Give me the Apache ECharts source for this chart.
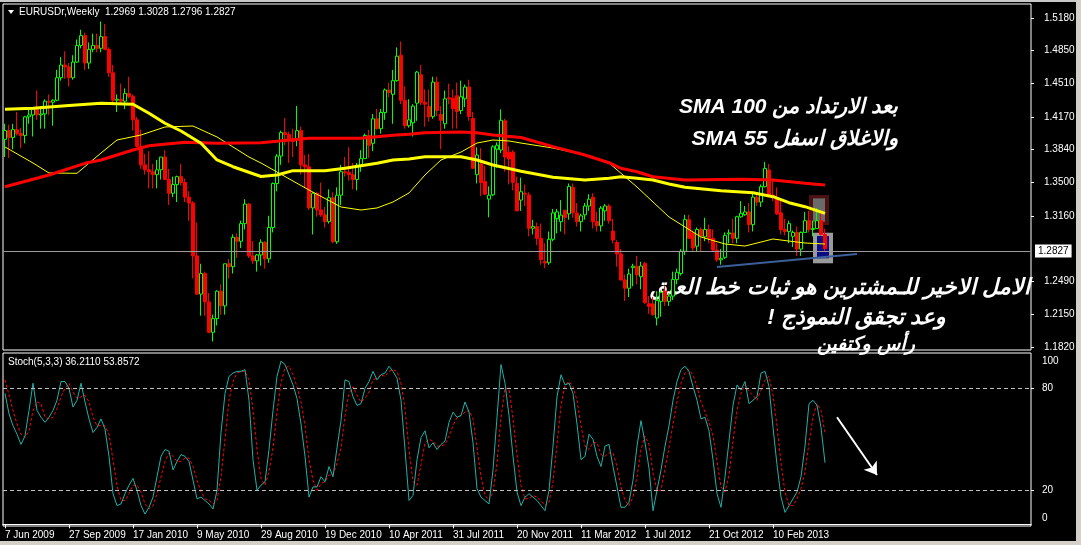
<!DOCTYPE html>
<html><head><meta charset="utf-8">
<script src="https://cdn.jsdelivr.net/npm/echarts/dist/echarts.min.js"></script>
<style>html,body{margin:0;padding:0;background:#000;overflow:hidden}#c{width:1081px;height:545px}</style>
</head><body><div id="c"></div>
<script>
// ---------------- DATA ----------------
const tickLabels = ['7 Jun 2009','27 Sep 2009','17 Jan 2010','9 May 2010','29 Aug 2010','19 Dec 2010','10 Apr 2011','31 Jul 2011','20 Nov 2011','11 Mar 2012','1 Jul 2012','21 Oct 2012','10 Feb 2013'];
const weeksPerTick = 16;
const slotCount = 257;

const opens = [1.3940,1.4030,1.3960,1.4040,1.4000,1.3980,1.4170,1.4190,1.4250,1.4190,
1.4200,1.4330,1.4320,1.4340,1.4570,1.4700,1.4680,1.4570,1.4730,1.4900,
1.5000,1.4720,1.4860,1.4900,1.4870,1.4990,1.4860,1.4620,1.4340,1.4350,
1.4330,1.4410,1.4380,1.4140,1.3870,1.3680,1.3630,1.3610,1.3580,1.3630,
1.3760,1.3530,1.3390,1.3480,1.3560,1.3500,1.3350,1.3290,1.2750,1.2360,
1.2570,1.2280,1.1970,1.2110,1.2390,1.2240,1.2670,1.2640,1.2940,1.2900,
1.3080,1.3280,1.2750,1.2700,1.2760,1.2890,1.2720,1.3040,1.3490,1.3770,
1.4010,1.3990,1.3940,1.3950,1.4030,1.3680,1.3660,1.3240,1.3390,1.3220,
1.3170,1.3100,1.3345,1.2895,1.3370,1.3610,1.3600,1.3580,1.3530,1.3676,
1.3744,1.3980,1.3900,1.4150,1.4050,1.4215,1.4445,1.4400,1.4540,1.4800,
1.4340,1.4080,1.4110,1.4310,1.4600,1.4320,1.4280,1.4175,1.4525,1.4195,
1.4100,1.4365,1.4360,1.4385,1.4235,1.4355,1.4475,1.4155,1.3580,1.3690,
1.3510,1.3330,1.3375,1.3840,1.3832,1.4130,1.3810,1.3810,1.3490,1.3320,
1.3390,1.3372,1.3032,1.3049,1.2930,1.2694,1.2680,1.2920,1.3130,1.3100,
1.3217,1.3180,1.3450,1.3187,1.3100,1.3170,1.3260,1.3350,1.3100,1.3058,
1.3210,1.3260,1.3004,1.2888,1.2770,1.2505,1.2420,1.2630,1.2645,1.2538,
1.2674,1.2262,1.2260,1.2116,1.2286,1.2390,1.2286,1.2340,1.2510,1.2570,
1.2798,1.3120,1.2985,1.2850,1.3020,1.2945,1.3020,1.2930,1.2810,1.2710,
1.2735,1.2975,1.2985,1.2930,1.3150,1.3170,1.3200,1.3070,1.3350,1.3300,
1.3457,1.3627,1.3370,1.3330,1.3190,1.3020,1.3000,1.2950,1.2990,1.2820,
1.2990,1.3110,1.3020,1.3030,1.3110,1.2969];
const highs = [1.4100,1.4090,1.4100,1.4220,1.4060,1.4180,1.4260,1.4260,1.4440,1.4280,
1.4350,1.4400,1.4350,1.4650,1.4780,1.4840,1.4720,1.4800,1.4960,1.5060,
1.5030,1.4930,1.5020,1.5020,1.5144,1.5120,1.4880,1.4700,1.4400,1.4510,
1.4460,1.4580,1.4400,1.4170,1.4040,1.3790,1.3820,1.3690,1.3730,1.3760,
1.3830,1.3640,1.3560,1.3570,1.3690,1.3540,1.3410,1.3310,1.3090,1.2670,
1.2590,1.2370,1.2150,1.2400,1.2460,1.2670,1.2720,1.2970,1.2980,1.3110,
1.3330,1.3290,1.2900,1.2770,1.2920,1.2900,1.3160,1.3500,1.3790,1.4030,
1.4160,1.4020,1.4050,1.4282,1.4070,1.3780,1.3790,1.3400,1.3400,1.3500,
1.3250,1.3430,1.3400,1.3450,1.3680,1.3760,1.3860,1.3700,1.3700,1.3830,
1.4000,1.4040,1.4200,1.4250,1.4250,1.4460,1.4520,1.4650,1.4880,1.4940,
1.4480,1.4350,1.4300,1.4640,1.4700,1.4450,1.4450,1.4580,1.4580,1.4280,
1.4440,1.4510,1.4450,1.4520,1.4540,1.4500,1.4550,1.4220,1.3860,1.3850,
1.3670,1.3460,1.3880,1.3910,1.4247,1.4150,1.3870,1.3830,1.3560,1.3550,
1.3480,1.3400,1.3120,1.3090,1.3080,1.2880,1.3000,1.3230,1.3230,1.3320,
1.3220,1.3490,1.3490,1.3290,1.3180,1.3290,1.3380,1.3390,1.3200,1.3260,
1.3280,1.3280,1.3130,1.2910,1.2820,1.2560,1.2620,1.2670,1.2750,1.2690,
1.2690,1.2340,1.2330,1.2390,1.2400,1.2440,1.2370,1.2590,1.2620,1.2820,
1.3170,1.3170,1.3010,1.3040,1.3040,1.3140,1.3070,1.3020,1.2880,1.2820,
1.2990,1.3020,1.3130,1.3160,1.3310,1.3260,1.3290,1.3400,1.3400,1.3480,
1.3711,1.3690,1.3520,1.3450,1.3320,1.3130,1.3110,1.3010,1.3050,1.3000,
1.3200,1.3210,1.3110,1.3240,1.3200,1.3028];
const lows = [1.3760,1.3750,1.3840,1.3980,1.3850,1.3900,1.4100,1.3970,1.4140,1.4050,
1.4050,1.4190,1.4080,1.4330,1.4540,1.4560,1.4480,1.4550,1.4720,1.4870,
1.4650,1.4660,1.4830,1.4830,1.4830,1.4850,1.4580,1.4300,1.4220,1.4310,
1.4250,1.4360,1.4030,1.3860,1.3640,1.3580,1.3440,1.3440,1.3440,1.3530,
1.3530,1.3270,1.3350,1.3300,1.3470,1.3300,1.3110,1.2520,1.2350,1.2140,
1.2140,1.1960,1.1876,1.2040,1.2150,1.2150,1.2520,1.2570,1.2730,1.2830,
1.3020,1.2730,1.2670,1.2590,1.2650,1.2620,1.2680,1.2990,1.3410,1.3680,
1.3880,1.3700,1.3760,1.3870,1.3580,1.3440,1.3220,1.2969,1.3150,1.3150,
1.3040,1.3080,1.2880,1.2873,1.3270,1.3560,1.3520,1.3430,1.3420,1.3610,
1.3740,1.3750,1.3820,1.4040,1.4000,1.4140,1.4370,1.4100,1.4530,1.4300,
1.4050,1.4060,1.3970,1.4130,1.4290,1.4070,1.4120,1.4150,1.4180,1.3840,
1.4050,1.4300,1.4050,1.4050,1.4200,1.4270,1.4130,1.3640,1.3490,1.3360,
1.3380,1.3145,1.3360,1.3650,1.3800,1.3610,1.3480,1.3420,1.3210,1.3210,
1.3260,1.2950,1.2970,1.2860,1.2660,1.2624,1.2660,1.2900,1.2980,1.3000,
1.2970,1.3120,1.3140,1.3050,1.3000,1.3120,1.3210,1.3030,1.3000,1.3000,
1.3110,1.3080,1.2880,1.2640,1.2500,1.2290,1.2330,1.2440,1.2460,1.2410,
1.2260,1.2160,1.2140,1.2040,1.2130,1.2240,1.2240,1.2300,1.2460,1.2550,
1.2760,1.2930,1.2800,1.2800,1.2800,1.2900,1.2880,1.2790,1.2690,1.2660,
1.2720,1.2880,1.2880,1.2880,1.3140,1.3160,1.2990,1.3000,1.3260,1.3250,
1.3450,1.3370,1.3310,1.3170,1.2970,1.2960,1.2880,1.2840,1.2750,1.2750,
1.2990,1.2990,1.2950,1.3030,1.2960,1.2796];
const closes = [1.4030,1.3960,1.4040,1.4000,1.3980,1.4170,1.4190,1.4250,1.4190,1.4200,
1.4330,1.4320,1.4340,1.4570,1.4700,1.4680,1.4570,1.4730,1.4900,1.5000,
1.4720,1.4860,1.4900,1.4870,1.4990,1.4860,1.4620,1.4340,1.4350,1.4330,
1.4410,1.4380,1.4140,1.3870,1.3680,1.3630,1.3610,1.3580,1.3630,1.3760,
1.3530,1.3390,1.3480,1.3560,1.3500,1.3350,1.3290,1.2750,1.2360,1.2570,
1.2280,1.1970,1.2110,1.2390,1.2240,1.2670,1.2640,1.2940,1.2900,1.3080,
1.3280,1.2750,1.2700,1.2760,1.2890,1.2720,1.3040,1.3490,1.3770,1.4010,
1.3990,1.3940,1.3920,1.4030,1.3680,1.3660,1.3240,1.3390,1.3220,1.3170,
1.3100,1.3345,1.2895,1.3370,1.3610,1.3600,1.3580,1.3530,1.3676,1.3744,
1.3980,1.3880,1.4150,1.4050,1.4215,1.4445,1.4420,1.4540,1.4790,1.4340,
1.4080,1.4140,1.4280,1.4628,1.4320,1.4300,1.4170,1.4525,1.4235,1.4135,
1.4355,1.4355,1.4255,1.4225,1.4375,1.4475,1.4175,1.3645,1.3780,1.3500,
1.3380,1.3370,1.3865,1.3880,1.4135,1.3760,1.3740,1.3500,1.3210,1.3406,
1.3380,1.3032,1.3050,1.2930,1.2710,1.2677,1.2920,1.3190,1.3200,1.3167,
1.3143,1.3460,1.3190,1.3100,1.3160,1.3260,1.3330,1.3100,1.3058,1.3238,
1.3260,1.3110,1.2912,1.2770,1.2505,1.2420,1.2566,1.2645,1.2555,1.2647,
1.2273,1.2235,1.2150,1.2296,1.2378,1.2286,1.2340,1.2510,1.2583,1.2798,
1.3121,1.2930,1.2832,1.3020,1.2950,1.3020,1.2930,1.2810,1.2710,1.2725,
1.2960,1.2985,1.2930,1.3150,1.3185,1.3200,1.3070,1.3350,1.3300,1.3457,
1.3644,1.3370,1.3360,1.3180,1.3020,1.3000,1.3080,1.2990,1.2820,1.2990,
1.3110,1.3020,1.3030,1.3110,1.2970,1.2827];

// moving averages at sample bars (bar index, price)
const smaThickIdx = [0,7,16,24,32,36,40,44,49,53,57,64,68,72,80,85,89,93,97,101,105,114,118,122,129,137,145,151,154,158,162,166,170,179,187,192,196,200,205];
const smaThickVal = [1.4248,1.4258,1.4286,1.4309,1.4299,1.4207,1.4105,1.4026,1.3900,1.3730,1.3661,1.3561,1.3577,1.3621,1.3621,1.3645,1.3672,1.3696,1.3730,1.3740,1.3763,1.3763,1.3730,1.3679,1.3614,1.3553,1.3526,1.3543,1.3559,1.3543,1.3526,1.3485,1.3451,1.3416,1.3396,1.3355,1.3294,1.3253,1.3185];
const smaRedIdx = [0,11,20,24,32,36,45,53,64,76,89,93,97,101,105,114,118,122,129,137,145,151,154,158,162,170,184,192,200,205];
const smaRedVal = [1.3457,1.3577,1.3696,1.3730,1.3832,1.3876,1.3911,1.3900,1.3907,1.3951,1.3951,1.3968,1.3982,1.3992,1.4009,1.4016,1.4009,1.3985,1.3960,1.3866,1.3781,1.3702,1.3645,1.3610,1.3559,1.3526,1.3533,1.3526,1.3492,1.3474];
const smaThinIdx = [0,7,11,18,24,28,34,40,47,53,61,64,68,76,84,89,93,97,101,105,109,114,118,122,126,129,137,145,151,158,166,174,180,185,192,196,200,205];
const smaThinVal = [1.3863,1.3699,1.3597,1.3594,1.3801,1.3934,1.3985,1.4067,1.4077,1.3965,1.3760,1.3699,1.3607,1.3423,1.3250,1.3219,1.3240,1.3301,1.3393,1.3577,1.3730,1.3811,1.3903,1.3934,1.3924,1.3903,1.3852,1.3781,1.3699,1.3454,1.3148,1.2943,1.2872,1.2851,1.2923,1.2902,1.2882,1.2872];

// Stochastic (5,3,3)
const stochK = [77,65,58,53,47,52,67,83,67,63,60,63,67,73,84,84,80,69,73,83,
72,62,54,57,62,56,40,18,11,12,18,23,27,20,11,6,10,16,28,40,
44,43,32,37,41,40,37,26,15,16,14,12,9,20,54,77,87,89,90,90,
91,73,38,20,23,25,44,67,87,96,94,88,82,74,59,40,16,22,22,28,
25,34,28,45,61,85,84,75,70,71,80,84,90,85,88,89,93,90,86,73,
44,14,17,38,51,55,45,48,44,47,49,60,66,63,64,72,66,48,21,16,
14,12,32,63,94,83,64,40,19,11,16,18,16,14,11,8,20,46,75,88,
82,83,77,59,38,40,53,50,40,34,46,47,34,22,10,10,13,26,46,61,
48,33,8,20,32,46,58,73,84,91,93,90,81,73,62,63,55,38,18,10,
28,49,70,82,79,84,71,73,75,89,90,81,57,35,16,7,11,15,19,28,
46,71,73,70,57,36.211];
const stochD = [85,76,67,59,53,51,55,67,72,71,63,62,63,68,75,80,83,78,74,75,
76,72,63,58,58,58,53,38,23,14,14,18,23,23,19,12,9,11,18,28,
37,42,40,37,37,39,39,34,26,19,15,14,12,14,28,50,73,84,89,90,
90,85,67,44,27,23,31,45,66,83,92,93,88,81,72,58,38,26,20,24,
25,29,29,36,45,64,77,81,76,72,74,78,85,86,88,87,90,91,90,83,
68,44,25,23,35,48,50,49,46,46,47,52,58,63,64,66,67,62,45,28,
17,14,19,36,63,80,80,62,41,23,15,15,17,16,14,11,13,25,47,70,
82,84,81,73,58,46,44,48,48,41,40,42,42,34,22,14,11,16,28,44,
52,47,30,20,20,33,45,59,72,83,89,91,88,81,72,66,60,52,37,22,
19,29,49,67,77,82,78,76,73,79,85,87,76,58,36,19,11,11,15,21,
31,48,63,71,67,53.857];

const priceTicks = [1.1820,1.2150,1.2490,1.3160,1.3500,1.3840,1.4170,1.4510,1.4850,1.5180];
const stochTicks = [0,20,80,100];
const lastPrice = 1.2827;

// chart annotations (data coordinates: bar index, value)
const neckline = [[177.5,1.2637],[213,1.2770]];
const boxes = [
  {from:[200.5,1.3372], to:[205.75,1.3066], color:'#4a1212'},
  {from:[201.7,1.3338], to:[204.6,1.3100], color:'#6a6a6a'},
  {from:[201.9,1.2987], to:[207.25,1.2675], color:'#9a9a9a'},
  {from:[202.75,1.2954], to:[206.25,1.2726], color:'#0b0b82'}
];
const arrow = [[207.5,63],[218.3,29]];

// ---------------- CHART ----------------
const FONT = '"Liberation Sans", Arial, sans-serif';
const cats = Array.from({length: slotCount}, (_, i) => 'w' + i);
const labelFor = i => (i % weeksPerTick === 0 && i / weeksPerTick < tickLabels.length) ? tickLabels[i / weeksPerTick] : '';
const candleData = opens.map((o, i) => [o, closes[i], lows[i], highs[i]]);
const pairs = (idx, val) => idx.map((x, i) => [x, val[i]]);
const RLE = '\u202B', PDF = '\u202C';

const chart = echarts.init(document.getElementById('c'), null, {renderer: 'canvas'});
const arabicFont = 'italic bold 21px "Liberation Sans", "DejaVu Sans", sans-serif';
const arabicFontL = 'italic bold 22px "Liberation Sans", "DejaVu Sans", sans-serif';

chart.setOption({
  backgroundColor: '#000',
  animation: false,
  grid: [
    {left: 3, top: 4, width: 1028, height: 346, show: true, borderColor: '#fff', borderWidth: 1, backgroundColor: 'transparent'},
    {left: 3, top: 353, width: 1028, height: 173, show: true, borderColor: '#fff', borderWidth: 1, backgroundColor: 'transparent'}
  ],
  xAxis: [
    {type: 'category', gridIndex: 0, data: cats, boundaryGap: true,
     axisLine: {show: false}, axisTick: {show: false}, axisLabel: {show: false}, splitLine: {show: false}},
    {type: 'category', gridIndex: 1, data: cats, boundaryGap: true,
     axisLine: {show: true, lineStyle: {color: '#fff'}},
     axisTick: {show: true, alignWithLabel: true, interval: (i) => labelFor(i) !== '', length: 4, lineStyle: {color: '#fff'}},
     axisLabel: {show: true, interval: (i) => labelFor(i) !== '', formatter: (v, i) => labelFor(i),
                 align: 'left', color: '#fff', fontFamily: FONT, fontSize: 10, margin: 4},
     splitLine: {show: false}}
  ],
  yAxis: [
    {type: 'value', gridIndex: 0, position: 'right', min: 1.178936, max: 1.532298,
     splitLine: {show: false}, axisLine: {show: false},
     axisTick: {show: true, customValues: priceTicks, length: 3, lineStyle: {color: '#fff'}},
     axisLabel: {customValues: priceTicks, formatter: v => v.toFixed(4), color: '#fff', fontFamily: FONT, fontSize: 10, margin: 13}},
    {type: 'value', gridIndex: 1, position: 'right', min: -1, max: 100.8,
     splitLine: {show: false}, axisLine: {show: false},
     axisTick: {show: true, customValues: [20, 80], length: 3, lineStyle: {color: '#fff'}},
     axisLabel: {customValues: stochTicks, color: '#fff', fontFamily: FONT, fontSize: 10, margin: 11,
       formatter: v => v === 100 ? '{t|100}' : (v === 0 ? '{b|0}' : String(v)),
       rich: {t: {padding: [14, 0, 0, 0], color: '#fff', fontSize: 10, fontFamily: FONT},
              b: {padding: [0, 0, 12, 0], color: '#fff', fontSize: 10, fontFamily: FONT}}}}
  ],
  series: [
    {type: 'line', name: 'objects', xAxisIndex: 0, yAxisIndex: 0, data: [], z: 1, silent: true,
     markArea: {silent: true, data: boxes.map(b => [{coord: b.from, itemStyle: {color: b.color, opacity: 1}}, {coord: b.to}])},
     markLine: {silent: true, symbol: ['none', 'none'], animation: false,
       data: [[{coord: neckline[0]}, {coord: neckline[1]}]],
       lineStyle: {color: '#3b5f98', width: 2, type: 'solid'}, label: {show: false}}
    },
    {type: 'candlestick', name: 'EURUSDr', xAxisIndex: 0, yAxisIndex: 0, data: candleData, barWidth: 3, z: 3,
     itemStyle: {color: '#000', color0: '#ff0000', borderColor: '#00ff00', borderColor0: '#ff0000', borderWidth: 1},
     markLine: {silent: true, symbol: ['none', 'none'], animation: false,
       data: [{yAxis: lastPrice}],
       lineStyle: {color: '#9b9b9b', width: 1, type: 'solid'},
       label: {show: true, position: 'end', formatter: lastPrice.toFixed(4), color: '#000', backgroundColor: '#fff',
               padding: [2, 3, 1, 3], fontSize: 10, fontFamily: FONT, distance: 4}}
    },
    {type: 'line', name: 'SMA thin', xAxisIndex: 0, yAxisIndex: 0, data: pairs(smaThinIdx, smaThinVal), showSymbol: false, symbol: 'none', z: 4,
     lineStyle: {color: '#ffff00', width: 1}},
    {type: 'line', name: 'SMA 100', xAxisIndex: 0, yAxisIndex: 0, data: pairs(smaRedIdx, smaRedVal), showSymbol: false, symbol: 'none', z: 5,
     lineStyle: {color: '#ff0000', width: 3}},
    {type: 'line', name: 'SMA 55', xAxisIndex: 0, yAxisIndex: 0, data: pairs(smaThickIdx, smaThickVal), showSymbol: false, symbol: 'none', z: 6,
     lineStyle: {color: '#ffff00', width: 3}},
    {type: 'line', name: '%D', xAxisIndex: 1, yAxisIndex: 1, data: stochD, showSymbol: false, symbol: 'none', z: 3,
     lineStyle: {color: '#ff0000', width: 1, type: [3, 2]}},
    {type: 'line', name: '%K', xAxisIndex: 1, yAxisIndex: 1, data: stochK, showSymbol: false, symbol: 'none', z: 4,
     lineStyle: {color: '#20b2aa', width: 1},
     markLine: {silent: true, symbol: ['none', 'none'], animation: false, label: {show: false},
       data: [
         {yAxis: 80, lineStyle: {color: '#c0c0c0', width: 1, type: [4, 3]}},
         {yAxis: 20, lineStyle: {color: '#c0c0c0', width: 1, type: [4, 3]}},
         [{coord: arrow[0], symbol: 'none', lineStyle: {color: '#fff', width: 2, type: 'solid'}},
          {coord: arrow[1], symbol: 'arrow', symbolSize: 12}]
       ]}
    }
  ],
  graphic: [
    {type: 'rect', shape: {x: 0, y: 0, width: 1081, height: 2}, style: {fill: '#c8c8c8'}, silent: true},
    {type: 'rect', shape: {x: 1076, y: 0, width: 5, height: 545}, style: {fill: '#d4d0c8'}, silent: true},
    {type: 'rect', shape: {x: 0, y: 541, width: 1081, height: 4}, style: {fill: '#d4d0c8'}, silent: true},
    {type: 'polygon', shape: {points: [[8, 10], [14, 10], [11, 14]]}, style: {fill: '#fff'}, silent: true},
    {type: 'text', x: 19, y: 12, style: {text: 'EURUSDr,Weekly  1.2969 1.3028 1.2796 1.2827', fill: '#fff', font: '10px ' + FONT, textVerticalAlign: 'middle'}, silent: true},
    {type: 'text', x: 8, y: 362, style: {text: 'Stoch(5,3,3) 36.2110 53.8572', fill: '#fff', font: '10px ' + FONT, textVerticalAlign: 'middle'}, silent: true},
    {type: 'text', x: 898, y: 107, style: {text: RLE + 'بعد الارتداد من SMA 100' + PDF, fill: '#fff', font: arabicFont, textAlign: 'right', textVerticalAlign: 'middle'}, silent: true},
    {type: 'text', x: 898, y: 139, style: {text: RLE + 'والاغلاق اسفل SMA 55' + PDF, fill: '#fff', font: arabicFont, textAlign: 'right', textVerticalAlign: 'middle'}, silent: true},
    {type: 'text', x: 1030, y: 288, style: {text: RLE + 'الامل الاخير للـمشترين هو ثبات خط العنق' + PDF, fill: '#fff', font: arabicFontL, textAlign: 'right', textVerticalAlign: 'middle'}, silent: true},
    {type: 'text', x: 946, y: 318, style: {text: RLE + 'وعد تجقق النموذج !' + PDF, fill: '#fff', font: arabicFontL, textAlign: 'right', textVerticalAlign: 'middle'}, silent: true},
    {type: 'text', x: 915, y: 345, style: {text: RLE + 'رأس وكتفين' + PDF, fill: '#fff', font: 'italic bold 19px "DejaVu Sans", sans-serif', textAlign: 'right', textVerticalAlign: 'middle'}, silent: true}
  ]
});
</script>
</body></html>
